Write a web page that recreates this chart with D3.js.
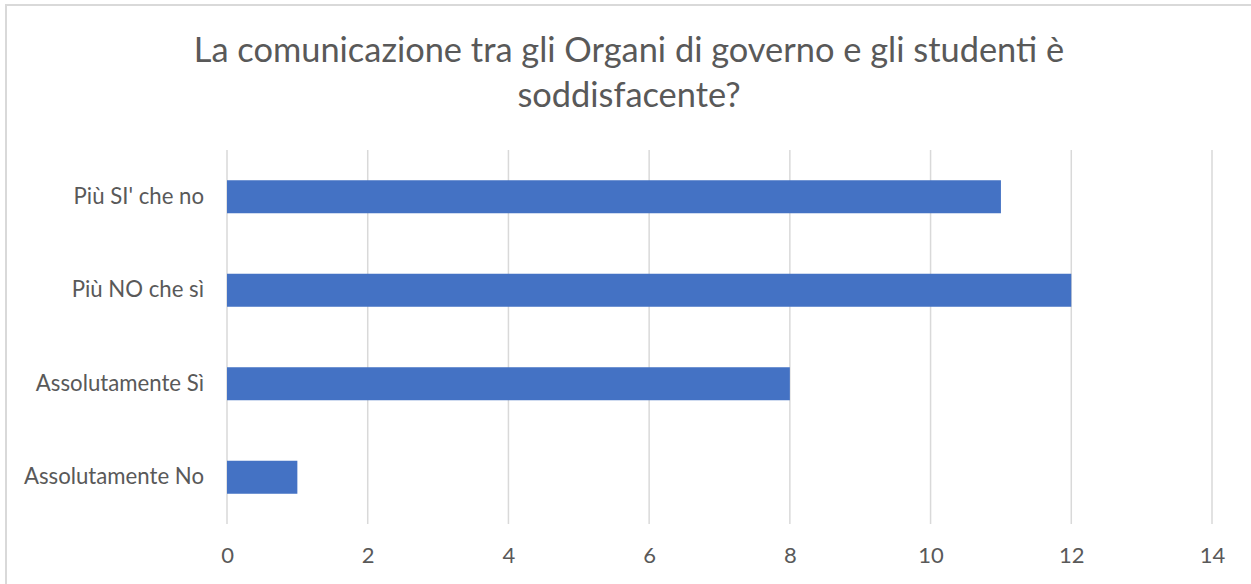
<!DOCTYPE html>
<html><head><meta charset="utf-8">
<script src="https://cdn.jsdelivr.net/npm/d3@7"></script>
<style>
html,body{margin:0;padding:0;background:#fff;}
svg{display:block;}
</style></head>
<body>
<script>
const categories = ["Più SI' che no", "Più NO che sì", "Assolutamente Sì", "Assolutamente No"];
const values = [11, 12, 8, 1];
const xTicks = [0, 2, 4, 6, 8, 10, 12, 14];
const titleLines = ["La comunicazione tra gli Organi di governo e gli studenti è", "soddisfacente?"];

const W = 1251, H = 584;
const svg = d3.select("body").append("svg").attr("width", W).attr("height", H);
const font = "Lato, 'Open Sans', sans-serif";
const textColor = "#595959";

svg.append("rect").attr("x", 6).attr("y", 5).attr("width", W + 10).attr("height", H + 10)
  .attr("fill", "#fff").attr("stroke", "#d9d9d9").attr("stroke-width", 2);

const x = d3.scaleLinear().domain([0, 14]).range([227, 1212]);
const y = d3.scaleBand().domain(categories).range([150, 524]).paddingInner(0.647).paddingOuter(0.3235);

// grid
svg.append("g").selectAll("line").data(xTicks).join("line")
  .attr("x1", d => x(d)).attr("x2", d => x(d))
  .attr("y1", 150).attr("y2", 524)
  .attr("stroke", "#d9d9d9").attr("stroke-width", 1.5);

// bars
svg.append("g").selectAll("rect").data(values).join("rect")
  .attr("x", x(0))
  .attr("y", (d, i) => y(categories[i]))
  .attr("width", d => x(d) - x(0))
  .attr("height", y.bandwidth())
  .attr("fill", "#4472C4");

// x axis labels
const xAxis = d3.axisBottom(x).tickValues(xTicks).tickSize(0).tickPadding(0);
const gx = svg.append("g").attr("transform", "translate(0,544)").call(xAxis);
gx.select(".domain").remove();
gx.selectAll("text").attr("font-family", font).attr("font-size", 22).attr("fill", textColor).attr("dy", "0.88em");

// y axis labels
const yAxis = d3.axisLeft(y).tickSize(0).tickPadding(23);
const gy = svg.append("g").attr("transform", `translate(${x(0)},0)`).call(yAxis);
gy.select(".domain").remove();
gy.selectAll("text").attr("font-family", font).attr("font-size", 22.2).attr("fill", textColor);

// title
svg.append("g").selectAll("text").data(titleLines).join("text")
  .attr("x", 629).attr("y", (d, i) => 62 + i * 45)
  .attr("text-anchor", "middle")
  .attr("font-family", font).attr("font-size", 34.4).attr("fill", textColor)
  .text(d => d);
</script>
</body></html>
